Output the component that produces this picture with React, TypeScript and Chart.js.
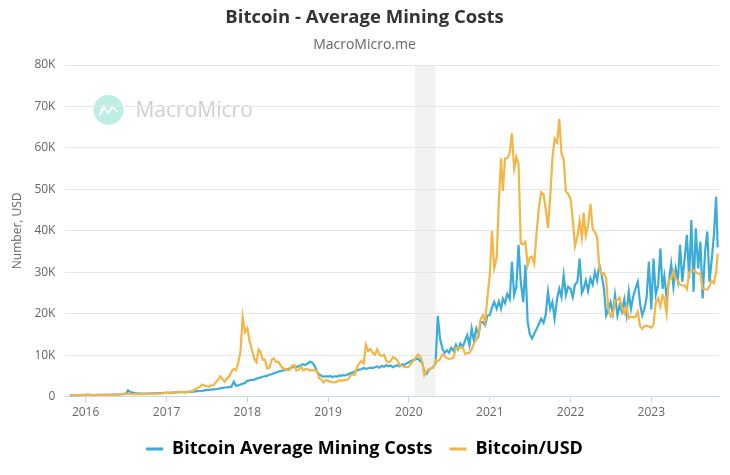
import { useEffect, useRef } from "react";
import { Chart, registerables } from "chart.js";

Chart.register(...registerables);

// ---- data (values in thousands of USD) ----
const FIRST_DATE = "2015-10-21";
const LAST_MONTH = "2023-10";
const FINAL_DATE = "2023-10-28";
const SAMPLE_DAYS = [1, 11, 21];
const X_MIN = "2015-10-02";
const X_MAX = "2023-11-03";
const YEAR_TICKS = [2016, 2017, 2018, 2019, 2020, 2021, 2022, 2023];
const Y_TICKS_K = [0, 10, 20, 30, 40, 50, 60, 70, 80];
const RECESSION = ["2020-01-29", "2020-04-30"];

const miningCostK = [
  // 2015 (Oct 21 -> Dec)
  0.25, 0.28, 0.3, 0.3, 0.33, 0.36, 0.38,
  // 2016
  0.4, 0.42, 0.4, 0.38, 0.39, 0.42, 0.43, 0.42, 0.41, 0.42, 0.43, 0.45, 0.46, 0.47, 0.46, 0.5, 0.55, 0.62,
  0.65, 1.5, 1.1, 0.95, 0.85, 0.8, 0.75, 0.75, 0.72, 0.72, 0.74, 0.76, 0.78, 0.8, 0.82, 0.84, 0.86, 0.88,
  // 2017
  0.9, 0.92, 0.95, 0.98, 1.0, 1.02, 1.05, 1.05, 1.08, 1.1, 1.12, 1.15, 1.2, 1.25, 1.3, 1.35, 1.4, 1.5,
  1.55, 1.6, 1.7, 1.75, 1.8, 1.9, 2.0, 2.1, 2.2, 2.2, 2.3, 2.4, 3.6, 2.6, 2.7, 2.9, 3.1, 3.3,
  // 2018
  3.8, 3.9, 4.0, 4.1, 4.3, 4.5, 4.6, 4.8, 4.9, 5.0, 5.3, 5.4, 5.6, 5.8, 6.0, 6.2, 6.3, 6.5,
  6.6, 6.8, 7.0, 7.2, 7.1, 7.4, 7.6, 7.8, 7.6, 8.0, 8.4, 8.2, 7.5, 6.0, 5.4, 5.0, 4.8, 4.9,
  // 2019
  4.8, 5.0, 4.7, 4.9, 4.8, 5.1, 5.0, 5.2, 5.1, 5.4, 5.6, 5.8, 6.0, 6.3, 6.5, 6.6, 6.9, 6.7,
  6.8, 7.0, 6.9, 7.1, 7.3, 7.0, 7.4, 7.2, 7.6, 7.3, 7.5, 7.1, 7.4, 7.6, 7.3, 7.8, 7.6, 8.0,
  // 2020
  8.3, 8.6, 8.8, 9.0, 9.2, 8.6, 8.2, 6.0, 5.5, 6.5, 6.8, 7.2, 8.0, 19.5, 14.0, 11.5, 10.5, 11.2,
  10.6, 11.8, 11.0, 12.5, 11.4, 12.8, 12.0, 13.5, 14.8, 12.4, 16.4, 13.5, 16.4, 14.8, 18.0, 18.0, 17.2, 19.5,
  // 2021
  19.7, 21.5, 22.8, 21.2, 23.0, 21.2, 23.6, 22.5, 24.8, 23.5, 32.5, 24.5, 26.5, 36.6, 27.7, 22.8, 31.8, 18.0,
  15.0, 14.0, 15.2, 16.4, 17.5, 18.8, 17.8, 19.8, 25.3, 21.2, 22.8, 18.8, 23.5, 26.0, 24.0, 29.3, 24.5, 26.5,
  // 2022
  26.0, 24.0, 27.0, 27.7, 33.3, 25.0, 26.0, 28.0, 25.5, 28.5, 27.0, 30.1, 28.0, 31.7, 29.5, 26.0, 19.6, 21.0,
  22.8, 20.0, 24.5, 19.6, 22.0, 20.5, 23.5, 19.8, 25.3, 21.2, 24.0, 26.0, 27.7, 22.5, 19.6, 21.2, 24.0, 32.5,
  // 2023 (Jan -> Oct 21, Oct 28)
  21.0, 33.3, 24.5, 27.0, 35.7, 26.0, 29.0, 24.0, 27.7, 32.0, 26.5, 30.9, 28.0, 36.6, 27.7, 33.5, 39.0, 28.5,
  42.6, 25.3, 40.6, 30.9, 37.4, 23.7, 35.0, 39.8, 27.7, 33.0, 39.0, 48.2, 36.0,
];

const bitcoinUsdK = [
  // 2015
  0.27, 0.31, 0.31, 0.32, 0.36, 0.42, 0.44,
  // 2016
  0.43, 0.45, 0.41, 0.37, 0.38, 0.44, 0.43, 0.42, 0.41, 0.42, 0.42, 0.45, 0.45, 0.45, 0.44, 0.54, 0.58, 0.73,
  0.68, 0.65, 0.67, 0.62, 0.59, 0.58, 0.57, 0.62, 0.6, 0.61, 0.64, 0.63, 0.73, 0.71, 0.74, 0.75, 0.77, 0.83,
  // 2017
  1.0, 0.78, 0.92, 0.99, 1.0, 1.12, 1.22, 1.1, 1.04, 1.08, 1.19, 1.25, 1.42, 1.8, 2.05, 2.4, 2.9, 2.7,
  2.5, 2.35, 2.7, 2.73, 3.4, 4.0, 4.9, 4.2, 3.6, 4.4, 4.8, 6.0, 6.7, 6.4, 8.1, 10.9, 19.2, 15.5,
  // 2018
  16.5, 13.4, 11.5, 9.2, 8.3, 11.4, 10.9, 8.9, 8.9, 6.8, 6.9, 8.9, 9.2, 8.4, 8.4, 7.5, 6.8, 6.7,
  6.4, 6.4, 7.4, 7.6, 6.3, 6.5, 7.2, 6.3, 6.7, 6.6, 6.3, 6.4, 6.35, 6.3, 4.5, 4.2, 3.4, 4.0,
  // 2019
  3.8, 3.6, 3.5, 3.45, 3.6, 3.95, 3.8, 3.9, 4.0, 4.1, 5.0, 5.3, 5.3, 7.0, 8.0, 8.6, 8.0, 12.5,
  11.0, 11.5, 10.6, 10.1, 11.4, 10.1, 9.8, 10.1, 8.6, 8.3, 8.6, 9.5, 9.2, 8.7, 7.6, 7.4, 7.2, 7.1,
  // 2020
  7.2, 8.0, 8.6, 9.4, 10.2, 9.7, 8.5, 5.2, 6.2, 6.6, 6.9, 6.9, 8.8, 8.6, 9.0, 10.2, 9.8, 9.3,
  9.1, 9.2, 9.4, 11.8, 11.8, 11.7, 11.9, 10.3, 10.5, 10.6, 11.4, 12.8, 13.7, 15.3, 18.7, 19.6, 18.0, 23.8,
  // 2021
  29.4, 40.0, 31.0, 33.5, 47.0, 57.5, 49.6, 57.5, 57.5, 58.8, 63.5, 55.0, 57.8, 56.0, 37.0, 36.7, 37.3, 31.6,
  33.5, 33.8, 32.1, 39.9, 45.6, 49.3, 48.8, 45.2, 40.7, 48.1, 57.5, 62.2, 61.3, 67.0, 58.6, 57.2, 49.4, 48.9,
  // 2022
  47.7, 42.7, 36.3, 38.7, 42.4, 38.4, 44.4, 38.8, 41.2, 46.5, 40.5, 39.7, 38.5, 31.0, 29.5, 29.8, 28.4, 21.0,
  19.3, 19.8, 23.2, 23.3, 23.9, 21.5, 20.1, 21.8, 18.9, 19.3, 19.1, 19.2, 20.5, 17.0, 16.3, 17.0, 17.1, 16.9,
  // 2023
  16.6, 17.4, 22.7, 23.7, 21.8, 24.4, 23.6, 20.1, 28.2, 28.5, 30.2, 28.3, 28.1, 27.0, 26.8, 26.8, 25.9, 29.9,
  30.6, 30.4, 30.0, 29.7, 29.5, 26.1, 25.9, 25.8, 26.6, 27.9, 27.4, 30.0, 34.5,
];

const SERIES_NAMES = ["Bitcoin Average Mining Costs", "Bitcoin/USD"];
const SERIES_COLORS = ["#3bacd7", "#f3b545"];
const TITLE = "Bitcoin - Average Mining Costs";
const SUBTITLE = "MacroMicro.me";
const Y_TITLE = "Number, USD";
const WATERMARK = "MacroMicro";

const FONT = "'Open Sans', 'Noto Sans', sans-serif";

function ts(date: string): number {
  const [y, m, d] = date.split("-").map(Number);
  return Date.UTC(y, m - 1, d);
}

function buildDates(): string[] {
  const out: string[] = [];
  let [y, m] = FIRST_DATE.split("-").map(Number);
  const [ly, lm] = LAST_MONTH.split("-").map(Number);
  while (y < ly || (y === ly && m <= lm)) {
    for (const d of SAMPLE_DAYS) {
      const s = `${y}-${String(m).padStart(2, "0")}-${String(d).padStart(2, "0")}`;
      if (s >= FIRST_DATE) out.push(s);
    }
    m++;
    if (m > 12) {
      m = 1;
      y++;
    }
  }
  out.push(FINAL_DATE);
  return out;
}

const bandPlugin = {
  id: "bandAndWatermark",
  beforeDraw(chart: any) {
    const { ctx, chartArea, scales } = chart;
    const x = scales.x;
    ctx.save();
    // recession band
    const x0 = x.getPixelForValue(ts(RECESSION[0]));
    const x1 = x.getPixelForValue(ts(RECESSION[1]));
    ctx.fillStyle = "#f2f2f2";
    ctx.fillRect(x0, chartArea.top, x1 - x0, chartArea.bottom - chartArea.top);
    // watermark
    const cx = chartArea.left + 43;
    const cy = chartArea.top + 45;
    ctx.globalAlpha = 0.45;
    ctx.fillStyle = "#6fd8c4";
    ctx.beginPath();
    ctx.arc(cx, cy, 15, 0, Math.PI * 2);
    ctx.fill();
    ctx.globalAlpha = 1;
    ctx.strokeStyle = "#ffffff";
    ctx.lineWidth = 1.6;
    ctx.beginPath();
    ctx.moveTo(cx - 9, cy + 5);
    ctx.lineTo(cx - 4, cy - 2);
    ctx.lineTo(cx, cy + 3);
    ctx.lineTo(cx + 4, cy - 3);
    ctx.lineTo(cx + 9, cy + 2);
    ctx.moveTo(cx - 8, cy + 1);
    ctx.lineTo(cx - 4, cy - 5);
    ctx.stroke();
    ctx.fillStyle = "#cfcfcf";
    ctx.font = `21px ${FONT}`;
    ctx.textBaseline = "middle";
    ctx.textAlign = "left";
    ctx.fillText(WATERMARK, cx + 27, cy + 1);
    ctx.restore();
  },
};

export default function App() {
  const ref = useRef<HTMLCanvasElement | null>(null);

  useEffect(() => {
    document.body.style.margin = "0";
    const dates = buildDates();
    const xs = dates.map(ts);
    const toPoints = (vals: number[]) => vals.map((v, i) => ({ x: xs[i], y: v }));

    const chart = new Chart(ref.current as HTMLCanvasElement, {
      type: "line",
      data: {
        datasets: [
          {
            label: SERIES_NAMES[0],
            data: toPoints(miningCostK),
            borderColor: SERIES_COLORS[0],
            backgroundColor: SERIES_COLORS[0],
            borderWidth: 2.2,
            pointRadius: 0,
            tension: 0,
            order: 1,
          },
          {
            label: SERIES_NAMES[1],
            data: toPoints(bitcoinUsdK),
            borderColor: SERIES_COLORS[1],
            backgroundColor: SERIES_COLORS[1],
            borderWidth: 2.2,
            pointRadius: 0,
            tension: 0,
            order: 0,
          },
        ],
      },
      options: {
        animation: false,
        responsive: true,
        maintainAspectRatio: false,
        layout: { padding: { left: 10, right: 11, top: 0, bottom: 7 } },
        plugins: {
          title: {
            display: true,
            text: TITLE,
            color: "#333",
            font: { family: FONT, size: 18.5, weight: "bold" },
            padding: { top: 7, bottom: 6 },
          },
          subtitle: {
            display: true,
            text: SUBTITLE,
            color: "#666",
            font: { family: FONT, size: 14 },
            padding: { top: 1, bottom: 12 },
          },
          legend: {
            position: "bottom",
            labels: {
              usePointStyle: true,
              pointStyle: "line",
              pointStyleWidth: 17,
              color: "#000",
              font: { family: FONT, size: 18, weight: "bold" },
              padding: 17,
              sort: (a: any, b: any) => a.datasetIndex - b.datasetIndex,
              generateLabels: (chart: any) =>
                (Chart.defaults.plugins.legend.labels as any)
                  .generateLabels(chart)
                  .map((l: any) => ({ ...l, lineWidth: 3 })),
            },
          },
          tooltip: { enabled: false },
        },
        scales: {
          x: {
            type: "linear",
            min: ts(X_MIN),
            max: ts(X_MAX),
            afterBuildTicks: (axis: any) => {
              axis.ticks = YEAR_TICKS.map((y) => ({ value: Date.UTC(y, 0, 1) }));
            },
            ticks: {
              color: "#666",
              font: { family: FONT, size: 12 },
              autoSkip: false,
              maxRotation: 0,
              padding: 3,
              callback: (v: any) => String(new Date(v).getUTCFullYear()),
            },
            grid: { drawOnChartArea: false, color: "#ccd6eb", tickLength: 6 },
            border: { color: "#ccd6eb" },
          },
          y: {
            type: "linear",
            min: Y_TICKS_K[0],
            max: Y_TICKS_K[Y_TICKS_K.length - 1],
            afterBuildTicks: (axis: any) => {
              axis.ticks = Y_TICKS_K.map((v) => ({ value: v }));
            },
            ticks: {
              color: "#666",
              font: { family: FONT, size: 12 },
              padding: 10,
              callback: (v: any) => (v === 0 ? "0" : `${v}K`),
            },
            grid: { color: "#e6e6e6", drawTicks: false },
            border: { display: false },
            title: {
              display: true,
              text: Y_TITLE,
              color: "#666",
              font: { family: FONT, size: 12 },
              padding: { top: 0, bottom: 0 },
            },
          },
        },
      },
      plugins: [bandPlugin],
    } as any);

    return () => chart.destroy();
  }, []);

  return (
    <div style={{ width: 730, height: 475, position: "relative" }}>
      <canvas ref={ref} />
    </div>
  );
}
